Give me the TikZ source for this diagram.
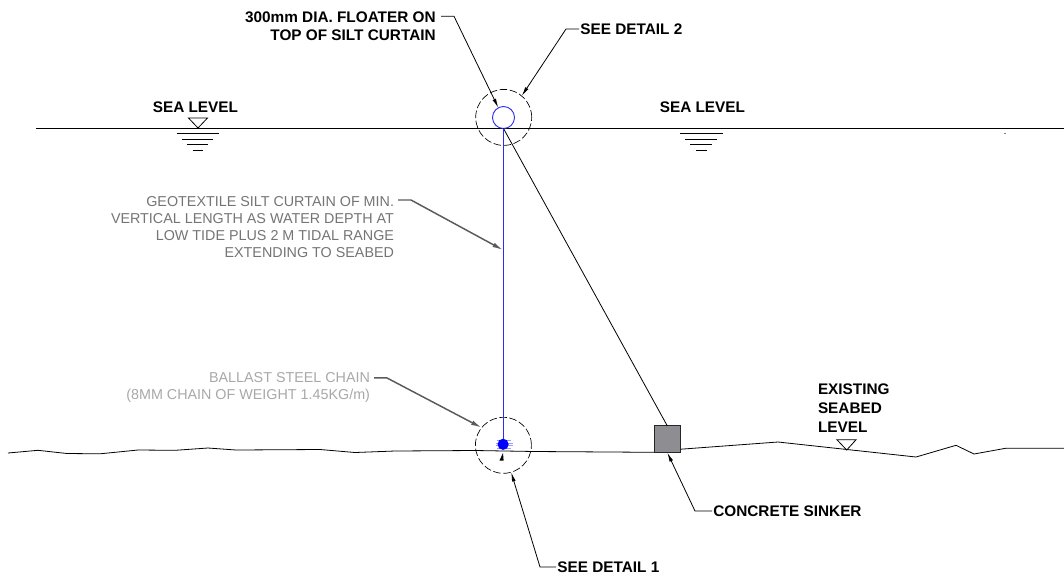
\documentclass[tikz,border=0pt]{standalone}
\usepackage{fontspec}
\setmainfont{Liberation Sans}
\usetikzlibrary{arrows.meta}
\definecolor{geogray}{HTML}{747474}
\definecolor{chaingray}{HTML}{A8A8A8}
\definecolor{leadgray}{HTML}{5A5A5A}
\definecolor{sinkgray}{HTML}{8E8E92}
\definecolor{floatblue}{HTML}{2C2CF4}
\tikzset{
  x=0.75pt,y=-0.75pt,
  wire/.style={line width=0.6pt,black},
  tip/.style={-{Latex[length=7pt,width=2.8pt]}},
  leader/.style={wire,tip},
  grayleader/.style={line width=1.1pt,leadgray,-{Latex[length=8pt,width=3.6pt]}},
  lab/.style={font=\fontsize{11.5}{13.4}\selectfont\bfseries,text=black,inner xsep=0pt,inner ysep=0pt,outer sep=0pt},
  note/.style={font=\fontsize{10.75}{12.9}\selectfont,inner xsep=3pt,inner ysep=0pt,outer sep=0pt,align=right,anchor=north east},
  dashcircle/.style={circle,draw,line width=0.5pt,dash pattern=on 5.6pt off 2pt,minimum size=42pt,inner sep=0pt,outer sep=0pt},
  level/.style={line width=0.6pt,black},
}
\begin{document}
\begin{tikzpicture}
\useasboundingbox (0,0) rectangle (1064,576);

% sea line
\coordinate (seaL) at (36,128);
\coordinate (seaR) at (1064,128);
\draw[wire,line width=0.7pt] (seaL) -- (seaR);
\fill[gray] (1004,132.8) rectangle (1006,133.6);

% seabed
\draw[wire] (8,453) -- (38,450.3) -- (67,453.5) -- (100,453.8) -- (138,450) -- (175,450.3) -- (208,448) -- (236,450) -- (320,449.5) -- (355,452.5) -- (395,451) -- (475,450.5) -- (535,451.5) -- (654,452.3);
\draw[wire] (680.7,449.2) -- (778,442) -- (916,457) -- (956,445.3) -- (974,454) -- (1006,448.2) -- (1064,448.2);

% water-level symbols
\draw[level] (188.5,118) -- (207.5,118) -- (198,128) -- cycle;
\draw[level] (176.7,133.4) -- (219,133.4) (181.7,139.3) -- (213,139.3) (186.7,144.8) -- (208,144.8) (192.7,150) -- (203,150);
\draw[level] (680,133.4) -- (723,133.4) (685,139.3) -- (717,139.3) (690,144.8) -- (712,144.8) (696,150) -- (707,150);
\draw[level] (837,439.8) -- (856,439.8) -- (846.7,450) -- cycle;

% detail circles
\node[dashcircle] (det2) at (503.7,117.4) {};
\node[dashcircle] (det1) at (503.4,445.3) {};

% floater, chain, sinker
\node[circle,draw=floatblue,line width=0.7pt,minimum size=16.5pt,inner sep=0pt,outer sep=0pt] (floater) at (503.5,117.5) {};
\draw[blue!40,line width=0.6pt] (496.5,440.5) -- (511,440.5) (495.5,443) -- (512.5,443) (495.5,445.5) -- (512.5,445.5) (496.5,448) -- (511,448);
\node[circle,fill=blue,minimum size=8.4pt,inner sep=0pt,outer sep=0pt] (chain) at (503.1,444.3) {};
\node[draw=black!85,fill=sinkgray,line width=0.7pt,minimum size=20pt,inner sep=0pt,outer sep=0pt] (sinker) at (667.3,439.2) {};
\draw[wire] (floater.south) -- (sinker.north);
\draw[floatblue,line width=0.85pt] (floater.south -| chain.north) -- (chain.north);
\fill (499.5,460.5) -- (503.6,460.5) -- (503,453) -- cycle;

% labels
\node[lab,anchor=east] (sl1) at (238,107.5) {SEA LEVEL};
\node[lab,anchor=east] (sl2) at (745,107.5) {SEA LEVEL};
\node[lab,font=\fontsize{11.5}{14.2}\selectfont\bfseries,anchor=north west,align=left] (seabed) at (818,383.5) {EXISTING\\SEABED\\LEVEL};
\node[lab,anchor=north east,align=right,inner xsep=4pt] (flt) at (441,12) {300mm DIA. FLOATER ON\\TOP OF SILT CURTAIN};
\node[lab,anchor=west,inner xsep=1pt] (sd2) at (579,29) {SEE DETAIL 2};
\node[lab,anchor=west,inner xsep=1pt] (sd1) at (556,567) {SEE DETAIL 1};
\node[lab,anchor=west,inner xsep=1pt] (cs) at (712,511) {CONCRETE SINKER};
\node[note,text=geogray] (geo) at (398,196) {GEOTEXTILE SILT CURTAIN OF MIN.\\VERTICAL LENGTH AS WATER DEPTH AT\\LOW TIDE PLUS 2 M TIDAL RANGE\\EXTENDING TO SEABED};
\node[note,text=chaingray] (bal) at (374,372.5) {BALLAST STEEL CHAIN\\(8MM CHAIN OF WEIGHT 1.45KG/m)};

% leaders
\coordinate (curtainpt) at (503,250);
\draw[leader] ([yshift=-3.2pt]flt.north east) -- ++(13,0) -- (floater.118);
\draw[leader] (sd2.west) -- ++(-13,0) -- (det2.50);
\draw[leader] (sd1.west) -- ++(-16,0) -- (det1.-74);
\draw[leader] (cs.west) -- ++(-17,0) -- (sinker.south);
\draw[grayleader] ([yshift=-3pt]geo.north east) -- ++(13,0) -- (curtainpt);
\draw[grayleader] ([yshift=-4.1pt]bal.north east) -- ++(13,0) -- (det1.141);
\end{tikzpicture}
\end{document}
